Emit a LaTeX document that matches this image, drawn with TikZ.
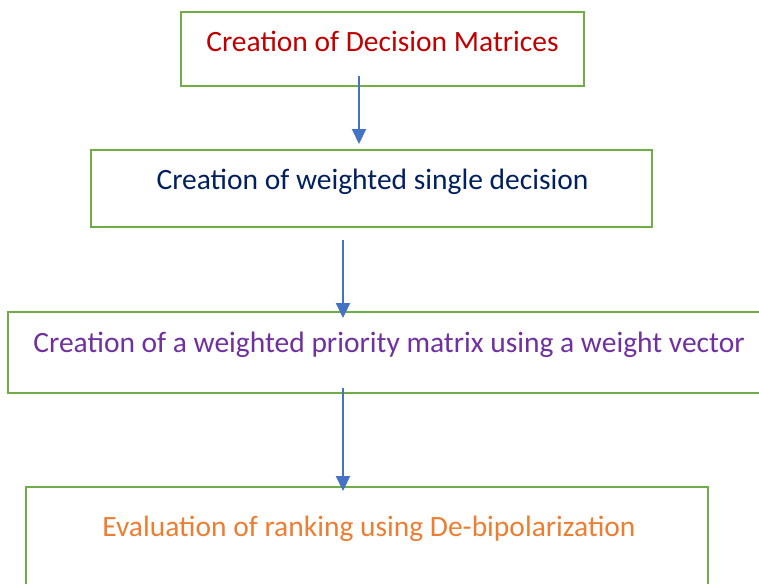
\documentclass[tikz,border=0pt]{standalone}
\usepackage{fontspec}
\setmainfont{Carlito}
\usetikzlibrary{arrows.meta}
\definecolor{boxgreen}{HTML}{70AD47}
\definecolor{arrblue}{HTML}{4472C4}
\definecolor{tred}{HTML}{C00000}
\definecolor{tnavy}{HTML}{002060}
\definecolor{tpurple}{HTML}{7030A0}
\definecolor{torange}{HTML}{ED7D31}
\begin{document}
\begin{tikzpicture}[x=1pt,y=-1pt,
  stepbox/.style={draw=boxgreen,line width=2.6pt,rectangle,inner sep=0pt,outer sep=0pt,fill=none},
  steptext/.style={anchor=base,inner sep=0pt,font=\fontsize{29.5}{35}\selectfont},
  flowarrow/.style={draw=arrblue,line width=2.2pt,-{Triangle[width=14pt,length=15pt]}}]
\useasboundingbox (0,0) rectangle (759,583);
\clip (0,0) rectangle (759,583);
% boxes
\node[stepbox,minimum width=403pt,minimum height=74pt] (b1) at (382.5,49) {};
\node[stepbox,minimum width=561pt,minimum height=77pt] (b2) at (371.5,188.5) {};
\node[stepbox,minimum width=764pt,minimum height=81pt] (b3) at (390,352.5) {};
\node[stepbox,minimum width=682pt,minimum height=113pt] (b4) at (367,543.5) {};
% texts
\node[steptext,text=tred] (t1) at (382.5,52) {Creation of Decision Matrices};
\node[steptext,text=tnavy] (t2) at (372.5,189) {Creation of weighted single decision};
\node[steptext,text=tpurple] (t3) at (389,352) {Creation of a weighted priority matrix using a weight vector};
\node[steptext,text=torange] (t4) at (369,536) {Evaluation of ranking using De-bipolarization};
% arrow endpoints
\coordinate (a1s) at (359,76);
\coordinate (a1e) at (359,144);
\coordinate (a2s) at (343,240);
\coordinate (a2e) at (343,318);
\coordinate (a3s) at (343,388);
\coordinate (a3e) at (343,491);
\draw[flowarrow] (a1s) -- (a1e);
\draw[flowarrow] (a2s) -- (a2e);
\draw[flowarrow] (a3s) -- (a3e);
\end{tikzpicture}
\end{document}
